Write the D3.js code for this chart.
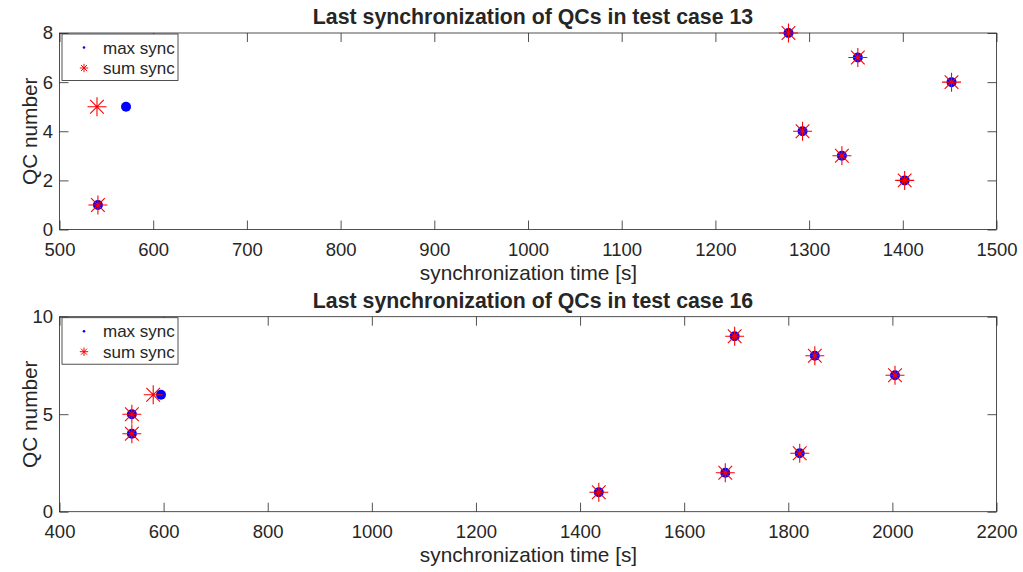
<!DOCTYPE html>
<html>
<head>
<meta charset="utf-8">
<script src="https://cdn.jsdelivr.net/npm/d3@7"></script>
<style>
  body { margin: 0; background: #fff; }
  svg text { font-family: "Liberation Sans", Arial, Helvetica, sans-serif; fill: #262626; }
</style>
</head>
<body>
<svg id="fig" width="1023" height="572"></svg>
<script>
// Test case 13: QC index and the time of its last synchronization
const qc13 = [1, 2, 3, 4, 5, 6, 7, 8];
const maxSync13 = [541, 1402, 1335, 1293, 571, 1452, 1352, 1278];
const sumSync13 = [541, 1402, 1335, 1293, 540, 1452, 1352, 1278];
const xTicks13 = [500, 600, 700, 800, 900, 1000, 1100, 1200, 1300, 1400, 1500];
const yTicks13 = [0, 2, 4, 6, 8];

// Test case 16
const qc16 = [1, 2, 3, 4, 5, 6, 7, 8, 9];
const maxSync16 = [1436, 1679, 1822, 539, 539, 595, 2005, 1851, 1697];
const sumSync16 = [1436, 1679, 1822, 539, 539, 580, 2005, 1851, 1697];
const xTicks16 = [400, 600, 800, 1000, 1200, 1400, 1600, 1800, 2000, 2200];
const yTicks16 = [0, 5, 10];

const seriesNames = ["max sync", "sum sync"];

const svg = d3.select("#fig");
const axisColor = "#262626";

const panels = [
  { title: "Last synchronization of QCs in test case 13", qc: qc13, maxS: maxSync13, sumS: sumSync13,
    xTicks: xTicks13, yTicks: yTicks13, top: 33, bottom: 229.5 },
  { title: "Last synchronization of QCs in test case 16", qc: qc16, maxS: maxSync16, sumS: sumSync16,
    xTicks: xTicks16, yTicks: yTicks16, top: 316.7, bottom: 511.7 }
];
const left = 59.5, right = 996.5;

// MATLAB-like '*' marker: plus and cross overlaid
function starPath(r) {
  const d = r * 0.72;
  return `M${-r},0H${r}M0,${-r}V${r}M${-d},${-d}L${d},${d}M${-d},${d}L${d},${-d}`;
}

panels.forEach(p => {
  const x = d3.scaleLinear()
    .domain(d3.extent(p.xTicks))
    .range([left, right]);
  const y = d3.scaleLinear()
    .domain(d3.extent(p.yTicks))
    .range([p.bottom, p.top]);

  const g = svg.append("g");

  // box frame
  g.append("rect")
    .attr("x", left).attr("y", p.top)
    .attr("width", right - left).attr("height", p.bottom - p.top)
    .attr("fill", "none").attr("stroke", axisColor).attr("stroke-width", 0.8);

  const tickLen = 9;
  const style = sel => {
    sel.select(".domain").remove();
    sel.selectAll(".tick line").attr("stroke", axisColor).attr("stroke-width", 0.8);
    sel.selectAll(".tick text").attr("font-size", "18.5px").attr("fill", axisColor);
  };

  g.append("g").attr("transform", `translate(0,${p.bottom})`)
    .call(d3.axisBottom(x).tickValues(p.xTicks).tickFormat(d3.format("d"))
      .tickSizeInner(-tickLen).tickSizeOuter(0).tickPadding(13))
    .call(style);
  g.append("g").attr("transform", `translate(0,${p.top})`)
    .call(d3.axisTop(x).tickValues(p.xTicks).tickFormat("")
      .tickSizeInner(-tickLen).tickSizeOuter(0))
    .call(style);
  g.append("g").attr("transform", `translate(${left},0)`)
    .call(d3.axisLeft(y).tickValues(p.yTicks).tickFormat(d3.format("d"))
      .tickSizeInner(-tickLen).tickSizeOuter(0).tickPadding(6.5))
    .call(style);
  g.append("g").attr("transform", `translate(${right},0)`)
    .call(d3.axisRight(y).tickValues(p.yTicks).tickFormat("")
      .tickSizeInner(-tickLen).tickSizeOuter(0))
    .call(style);

  // title and axis labels
  g.append("text")
    .attr("x", (left + right) / 2 + 5).attr("y", p.top - 9)
    .attr("text-anchor", "middle")
    .attr("font-size", "21.3px").attr("font-weight", "bold")
    .attr("fill", "#000")
    .text(p.title);
  g.append("text")
    .attr("x", (left + right) / 2 + 0.5).attr("y", p.bottom + 50.5)
    .attr("text-anchor", "middle")
    .attr("font-size", "20.8px")
    .text("synchronization time [s]");
  g.append("text")
    .attr("transform", `translate(37,${(p.top + p.bottom) / 2}) rotate(-90)`)
    .attr("text-anchor", "middle")
    .attr("font-size", "20.8px")
    .text("QC number");

  // max sync: filled blue dots
  g.append("g").selectAll("circle")
    .data(p.qc)
    .join("circle")
    .attr("cx", (d, i) => x(p.maxS[i]))
    .attr("cy", d => y(d))
    .attr("r", 5)
    .attr("fill", "#0000ff");

  // sum sync: red stars
  g.append("g").selectAll("path")
    .data(p.qc)
    .join("path")
    .attr("transform", (d, i) => `translate(${x(p.sumS[i])},${y(d)})`)
    .attr("d", starPath(9.5))
    .attr("fill", "none")
    .attr("stroke", "#ff0000")
    .attr("stroke-width", 1.1);

  // legend
  const lg = g.append("g").attr("transform", `translate(62,${p.top + 1})`);
  lg.append("rect")
    .attr("width", 116).attr("height", 46.5)
    .attr("fill", "#fff").attr("stroke", axisColor).attr("stroke-width", 0.8);
  const rows = lg.selectAll("g.row").data(seriesNames).join("g")
    .attr("class", "row")
    .attr("transform", (d, i) => `translate(0,${13.5 + i * 20.5})`);
  rows.filter((d, i) => i === 0).append("circle")
    .attr("cx", 22).attr("cy", 0).attr("r", 1.3).attr("fill", "#0000ff");
  rows.filter((d, i) => i === 1).append("path")
    .attr("transform", "translate(22,0)")
    .attr("d", starPath(4.2))
    .attr("fill", "none").attr("stroke", "#ff0000").attr("stroke-width", 1);
  rows.append("text")
    .attr("x", 41).attr("y", 0).attr("dy", "0.36em")
    .attr("font-size", "17px")
    .attr("fill", "#000")
    .text(d => d);
});
</script>
</body>
</html>
